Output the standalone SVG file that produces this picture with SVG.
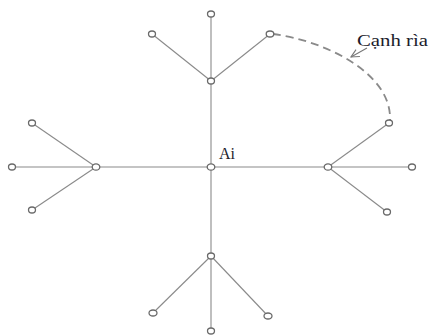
<svg xmlns="http://www.w3.org/2000/svg" width="430" height="335" viewBox="0 0 430 335">
<style>
.e{stroke:#8a8a8a;stroke-width:1.1;fill:none}
.n{fill:#fff;stroke:#6a6a6a;stroke-width:1.3}
.t{font-family:"Liberation Serif",serif;fill:#1c1c2c}
</style>
<defs>
<marker id="ah" markerWidth="10" markerHeight="10" refX="9" refY="5" orient="auto" markerUnits="userSpaceOnUse">
<path d="M1,1 L9,5 L1,9" fill="none" stroke="#777" stroke-width="1.1"/>
</marker>
</defs>
<rect width="430" height="335" fill="#fff"/>
<g id="connectors">
<line class="e" x1="211" y1="14" x2="211" y2="332"/>
<line class="e" x1="12" y1="167" x2="412" y2="167"/>
<line class="e" x1="211" y1="81" x2="152" y2="34"/>
<line class="e" x1="211" y1="81" x2="270" y2="34"/>
<line class="e" x1="96" y1="167" x2="32" y2="123"/>
<line class="e" x1="96" y1="167" x2="32" y2="210"/>
<line class="e" x1="328" y1="167" x2="389" y2="123"/>
<line class="e" x1="328" y1="167" x2="387" y2="212"/>
<line class="e" x1="211" y1="256" x2="153" y2="313"/>
<line class="e" x1="211" y1="256" x2="268" y2="316"/>
<path d="M273,34 C322,40 392,72 390,120" fill="none" stroke="#8a8a8a" stroke-width="1.8" stroke-dasharray="8,5"/>
<line x1="367" y1="48" x2="351" y2="57" stroke="#777" stroke-width="1.1" marker-end="url(#ah)"/>
</g>
<g id="center"><ellipse class="n" cx="211" cy="167" rx="3.8" ry="3.2"/><text class="t" x="219" y="159" font-size="16">Ai</text></g>
<g id="top-hub"><ellipse class="n" cx="211" cy="81" rx="3.5" ry="3"/></g>
<g id="top-leaf"><ellipse class="n" cx="211" cy="14" rx="3.5" ry="3"/></g>
<g id="top-left-leaf"><ellipse class="n" cx="152" cy="34" rx="3.5" ry="3"/></g>
<g id="top-right-leaf"><ellipse class="n" cx="270" cy="34" rx="3.8" ry="3"/></g>
<g id="left-hub"><ellipse class="n" cx="96" cy="167" rx="3.8" ry="3.2"/></g>
<g id="left-leaf"><ellipse class="n" cx="12" cy="167" rx="3.5" ry="3"/></g>
<g id="left-top-leaf"><ellipse class="n" cx="32" cy="123" rx="3.5" ry="3"/></g>
<g id="left-bottom-leaf"><ellipse class="n" cx="32" cy="210" rx="3.5" ry="3"/></g>
<g id="right-hub"><ellipse class="n" cx="328" cy="167" rx="3.8" ry="3.2"/></g>
<g id="right-leaf"><ellipse class="n" cx="412" cy="167" rx="3.5" ry="3"/></g>
<g id="right-top-leaf"><ellipse class="n" cx="389" cy="123" rx="3.5" ry="3"/></g>
<g id="right-bottom-leaf"><ellipse class="n" cx="387" cy="212" rx="3.5" ry="3"/></g>
<g id="bottom-hub"><ellipse class="n" cx="211" cy="256" rx="3.5" ry="3"/></g>
<g id="bottom-leaf"><ellipse class="n" cx="211" cy="331" rx="3.5" ry="3"/></g>
<g id="bottom-left-leaf"><ellipse class="n" cx="153" cy="313" rx="4" ry="3"/></g>
<g id="bottom-right-leaf"><ellipse class="n" cx="268" cy="316" rx="4" ry="3"/></g>
<g id="label"><text class="t" x="357" y="46" font-size="17" textLength="71" lengthAdjust="spacingAndGlyphs">Cạnh rìa</text></g>
</svg>
